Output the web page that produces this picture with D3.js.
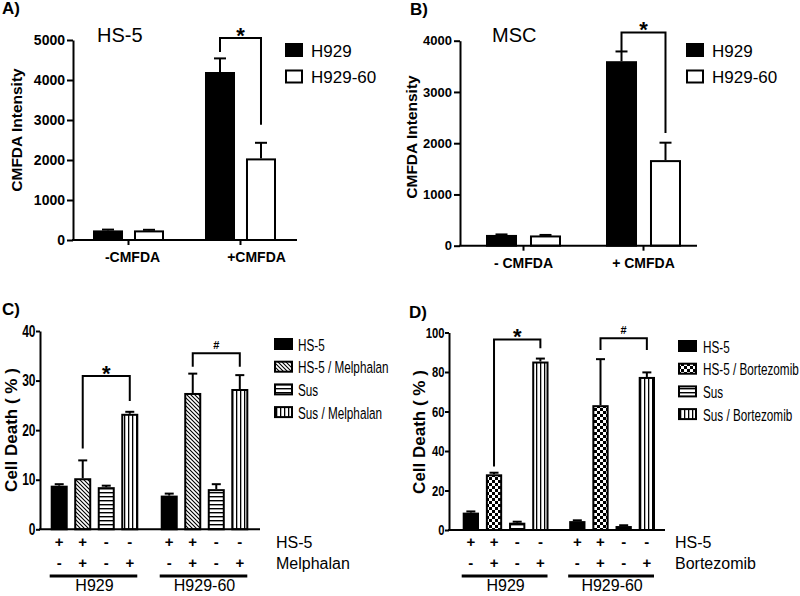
<!DOCTYPE html>
<html><head><meta charset="utf-8">
<script src="https://cdn.jsdelivr.net/npm/d3@7"></script>
<style>
body{margin:0;background:#fff;}
svg{display:block;font-family:"Liberation Sans",Arial,sans-serif;}
</style></head><body>
<svg id="fig" width="800" height="596"></svg>
<script>
// ---------------- data ----------------
const topGroupsA = ["-CMFDA", "+CMFDA"];
const topGroupsB = ["- CMFDA", "+ CMFDA"];
const topSeries = ["H929", "H929-60"];
const hs5H929 = [240, 4200], hs5H929Err = [20, 340];
const hs5H92960 = [240, 2040], hs5H92960Err = [15, 390];
const mscH929 = [210, 3600], mscH929Err = [10, 190];
const mscH92960 = [200, 1670], mscH92960Err = [10, 340];
const hs5Ticks = [0, 1000, 2000, 3000, 4000, 5000];
const mscTicks = [0, 1000, 2000, 3000, 4000];

const cellLines = ["H929", "H929-60"];
const melConds = ["HS-5", "HS-5 / Melphalan", "Sus", "Sus / Melphalan"];
const melH929 = [8.8, 10.3, 8.5, 23.3], melH929Err = [0.3, 3.6, 0.3, 0.4];
const melH92960 = [6.8, 27.5, 8.1, 28.3], melH92960Err = [0.4, 3.9, 1.0, 2.8];
const bortConds = ["HS-5", "HS-5 / Bortezomib", "Sus", "Sus / Bortezomib"];
const bortH929 = [8.8, 28.2, 3.7, 85.3], bortH929Err = [0.6, 0.8, 0.5, 1.5];
const bortH92960 = [4.5, 63.2, 2.0, 77.5], bortH92960Err = [0.4, 23.3, 0.4, 2.3];
const melTicks = [0, 10, 20, 30, 40];
const bortTicks = [0, 20, 40, 60, 80, 100];
const hs5Row = ["+", "+", "-", "-"];
const drugRow = ["-", "+", "-", "+"];
const condFills = ["#000", "url(#diag)", "url(#hstripe)", "url(#vstripe)"];
const condFillsB = ["#000", "url(#checker)", "url(#hstripe)", "url(#vstripe)"];
const topFills = ["#000", "#fff"];

// ---------------- setup ----------------
const svg = d3.select("#fig");
svg.append("rect").attr("width", 800).attr("height", 596).attr("fill", "#fff");
const defs = svg.append("defs");
function pat(id, w, h, draw) {
  const p = defs.append("pattern").attr("id", id).attr("patternUnits", "userSpaceOnUse")
    .attr("width", w).attr("height", h);
  p.append("rect").attr("width", w).attr("height", h).attr("fill", "#fff");
  draw(p);
}
pat("diag", 4, 4, p => p.append("path").attr("d", "M-1,-1L5,5M-1,3L1,5M3,-1L5,1")
  .attr("stroke", "#000").attr("stroke-width", 1.1));
pat("hstripe", 4, 4, p => p.append("rect").attr("width", 4).attr("height", 1.4).attr("fill", "#000"));
pat("vstripe", 4, 4, p => p.append("rect").attr("width", 1.3).attr("height", 4).attr("fill", "#000"));
pat("checker", 6, 6, p => {
  p.append("rect").attr("width", 3).attr("height", 3).attr("fill", "#000");
  p.append("rect").attr("x", 3).attr("y", 3).attr("width", 3).attr("height", 3).attr("fill", "#000");
});

function panel(cfg) {
  const g = svg.append("g");
  const y = d3.scaleLinear().domain([0, cfg.max]).range([cfg.y0, cfg.y1]);
  const xg = d3.scaleBand().domain(cfg.groups).range(cfg.band).paddingInner(cfg.padG).paddingOuter(0);
  const xi = d3.scaleBand().domain(cfg.keys).range([0, xg.bandwidth()]).paddingInner(cfg.padI).paddingOuter(0);
  const bars = [];
  cfg.groups.forEach((gn, gi) => cfg.keys.forEach((k, ki) =>
    bars.push({ gn, gi, k, ki, v: cfg.val(gi, ki), e: cfg.err(gi, ki) })));
  const bx = d => xg(d.gn) + xi(d.k);
  const bw = xi.bandwidth();
  // error bars
  const eg = g.append("g").attr("stroke", "#000").attr("stroke-width", 2);
  eg.selectAll("line.v").data(bars).join("line")
    .attr("x1", d => bx(d) + bw / 2).attr("x2", d => bx(d) + bw / 2)
    .attr("y1", d => y(d.v)).attr("y2", d => y(d.v + d.e));
  eg.selectAll("line.c").data(bars).join("line")
    .attr("x1", d => bx(d) + bw / 2 - cfg.cap / 2).attr("x2", d => bx(d) + bw / 2 + cfg.cap / 2)
    .attr("y1", d => y(d.v + d.e)).attr("y2", d => y(d.v + d.e));
  // bars
  g.append("g").selectAll("rect").data(bars).join("rect")
    .attr("x", d => bx(d) + 1).attr("width", bw - 2)
    .attr("y", d => y(d.v) + 1).attr("height", d => Math.max(0, cfg.y0 - y(d.v) - 1))
    .attr("fill", d => cfg.fills[d.ki]).attr("stroke", "#000").attr("stroke-width", 2);
  // y axis
  const ya = g.append("g").attr("transform", `translate(${cfg.x0},0)`)
    .call(d3.axisLeft(y).tickValues(cfg.ticks).tickFormat(d3.format("d"))
      .tickSize(cfg.tickLen).tickSizeOuter(0).tickPadding(2))
    .attr("font-family", null).attr("font-size", null);
  ya.select(".domain").attr("stroke-width", 2);
  ya.selectAll(".tick line").attr("stroke-width", 2);
  ya.selectAll("text").attr("font-size", cfg.tickFont).attr("font-weight", 700).attr("fill", "#000")
    .attr("transform", cfg.tickScale ? `scale(${cfg.tickScale},1)` : null);
  // x axis line
  g.append("line").attr("x1", cfg.x0 - 1).attr("x2", cfg.x1).attr("y1", cfg.y0).attr("y2", cfg.y0)
    .attr("stroke", "#000").attr("stroke-width", 2);
  if (cfg.xTicks) {
    const xa = g.append("g").attr("transform", `translate(0,${cfg.y0})`)
      .call(d3.axisBottom(xg).tickSize(5).tickPadding(cfg.xPad))
      .attr("font-family", null).attr("font-size", null);
    xa.select(".domain").remove();
    xa.selectAll(".tick line").attr("stroke-width", 2);
    xa.selectAll("text").attr("font-size", 14).attr("font-weight", 700).attr("fill", "#000")
      .attr("dx", (d, i) => cfg.xdx ? cfg.xdx[i] : 0);
  }
  // y label
  g.append("text").attr("transform", `translate(${cfg.ylx},${cfg.yly}) rotate(-90)`)
    .attr("text-anchor", "middle").attr("font-size", cfg.ylFont).attr("font-weight", 700).text(cfg.ylabel);
  // panel letter
  g.append("text").attr("x", cfg.letter[0]).attr("y", cfg.letter[1]).attr("font-size", 17)
    .attr("font-weight", 700).text(cfg.letterText);
  // brackets
  cfg.brackets.forEach(b => {
    const xa1 = xg(cfg.groups[b.from[0]]) + xi(cfg.keys[b.from[1]]) + bw / 2;
    const xa2 = xg(cfg.groups[b.to[0]]) + xi(cfg.keys[b.to[1]]) + bw / 2;
    g.append("path").attr("fill", "none").attr("stroke", "#000").attr("stroke-width", 2)
      .attr("d", `M${xa1},${y(b.l)}V${y(b.top)}H${xa2}V${y(b.r)}`);
    const star = b.label === "*";
    g.append("text").attr("x", (xa1 + xa2) / 2).attr("y", y(b.top) - 8 + (star ? 12.6 : 3.9))
      .attr("text-anchor", "middle").attr("font-size", star ? 22 : 11).attr("font-weight", 700)
      .text(b.label);
  });
  return { g, xg, xi, y, bw };
}

// ---------------- Panel A ----------------
const pA = panel({
  groups: topGroupsA, keys: topSeries, max: 5000, y0: 240, y1: 40, x0: 73, x1: 297,
  band: [93, 276], padG: 0.366, padI: 0.268, cap: 12, fills: topFills,
  val: (gi, ki) => [hs5H929, hs5H92960][ki][gi], err: (gi, ki) => [hs5H929Err, hs5H92960Err][ki][gi],
  ticks: hs5Ticks, tickLen: 6, tickFont: 14, xTicks: true, xPad: 7, xdx: [4, 16],
  ylabel: "CMFDA Intensity", ylx: 22, yly: 130, ylFont: 15.5, letter: [2, 14], letterText: "A)",
  brackets: [{ from: [1, 0], to: [1, 1], top: 5050, l: 4700, r: 2880, label: "*" }]
});
pA.g.append("text").attr("x", 97).attr("y", 42).attr("font-size", 20).text("HS-5");
// ---------------- Panel B ----------------
const pB = panel({
  groups: topGroupsB, keys: topSeries, max: 4000, y0: 245.7, y1: 40.7, x0: 460, x1: 697,
  band: [486, 681], padG: 0.375, padI: 0.295, cap: 12, fills: topFills,
  val: (gi, ki) => [mscH929, mscH92960][ki][gi], err: (gi, ki) => [mscH929Err, mscH92960Err][ki][gi],
  ticks: mscTicks, tickLen: 6, tickFont: 13, xTicks: true, xPad: 7.5,
  ylabel: "CMFDA Intensity", ylx: 417, yly: 137, ylFont: 15.5, letter: [410, 15], letterText: "B)",
  brackets: [{ from: [1, 0], to: [1, 1], top: 4160, l: 3795, r: 2200, label: "*" }]
});
pB.g.append("text").attr("x", 492).attr("y", 42).attr("font-size", 20).text("MSC");

// top legends
[[285, pA], [686, pB]].forEach(([lx, p]) => {
  const lg = p.g.append("g");
  topSeries.forEach((s, i) => {
    lg.append("rect").attr("x", lx + 1).attr("y", 44 + i * 26.5).attr("width", 16).attr("height", 12)
      .attr("fill", topFills[i]).attr("stroke", "#000").attr("stroke-width", 2);
    lg.append("text").attr("x", lx + 26).attr("y", 56.5 + i * 26.5).attr("font-size", 17).text(s);
  });
});

// ---------------- Panel C ----------------
const pC = panel({
  groups: cellLines, keys: melConds, max: 40, y0: 529.3, y1: 331, x0: 40, x1: 260,
  band: [50.7, 248.3], padG: 0.204, padI: 0.277, cap: 9, fills: condFills,
  val: (gi, ki) => [melH929, melH92960][gi][ki], err: (gi, ki) => [melH929Err, melH92960Err][gi][ki],
  ticks: melTicks, tickLen: 4, tickFont: 16, tickScale: 0.75, xTicks: false,
  ylabel: "Cell Death ( % )", ylx: 17, yly: 430, ylFont: 17, letter: [2, 315], letterText: "C)",
  brackets: [{ from: [0, 1], to: [0, 3], top: 30.9, l: 16.3, r: 25.9, label: "*" },
             { from: [1, 1], to: [1, 3], top: 35.5, l: 32.8, r: 32.8, label: "#" }]
});
// ---------------- Panel D ----------------
const pD = panel({
  groups: cellLines, keys: bortConds, max: 100, y0: 530, y1: 332.5, x0: 449, x1: 665,
  band: [462.7, 655], padG: 0.194, padI: 0.297, cap: 9, fills: condFillsB,
  val: (gi, ki) => [bortH929, bortH92960][gi][ki], err: (gi, ki) => [bortH929Err, bortH92960Err][gi][ki],
  ticks: bortTicks, tickLen: 4, tickFont: 15, tickScale: 0.75, xTicks: false,
  ylabel: "Cell Death ( % )", ylx: 425, yly: 432, ylFont: 17, letter: [409, 318], letterText: "D)",
  brackets: [{ from: [0, 1], to: [0, 3], top: 96.5, l: 32.1, r: 92, label: "*" },
             { from: [1, 1], to: [1, 3], top: 97.1, l: 91.1, r: 91.1, label: "#" }]
});

// legends + condition tables for C and D
[[pC, melConds, condFills, 274, 298, 344, "Melphalan", 276], [pD, bortConds, condFillsB, 678, 703, 346, "Bortezomib", 675]]
  .forEach(([p, conds, fills, bxl, tx, cy, drug, rlx]) => {
    conds.forEach((c, i) => {
      const yy = cy + i * 22.7;
      p.g.append("rect").attr("x", bxl + 1).attr("y", yy - 5).attr("width", 17).attr("height", 10)
        .attr("fill", fills[i]).attr("stroke", "#000").attr("stroke-width", 2);
      p.g.append("text").attr("transform", `translate(${tx},${yy + 6.5}) scale(0.69,1)`)
        .attr("font-size", 17).text(c);
    });
    // +/- rows
    cellLines.forEach(gn => {
      conds.forEach((c, ki) => {
        const cx = p.xg(gn) + p.xi(c) + p.bw / 2;
        p.g.append("text").attr("x", cx).attr("y", 547).attr("text-anchor", "middle").attr("font-size", 15)
          .attr("font-weight", 700).text(hs5Row[ki]);
        p.g.append("text").attr("x", cx).attr("y", 568).attr("text-anchor", "middle").attr("font-size", 15)
          .attr("font-weight", 700).text(drugRow[ki]);
      });
      const gx = p.xg(gn);
      p.g.append("line").attr("x1", gx - 1).attr("x2", gx + p.xg.bandwidth() - 1).attr("y1", 576).attr("y2", 576)
        .attr("stroke", "#000").attr("stroke-width", 3);
      p.g.append("text").attr("x", gx + p.xg.bandwidth() / 2).attr("y", 591).attr("text-anchor", "middle")
        .attr("font-size", 16).text(gn);
    });
    p.g.append("text").attr("x", rlx).attr("y", 548).attr("font-size", 16).text("HS-5");
    p.g.append("text").attr("x", rlx).attr("y", 569).attr("font-size", 16).text(drug);
  });
</script>
</body></html>
